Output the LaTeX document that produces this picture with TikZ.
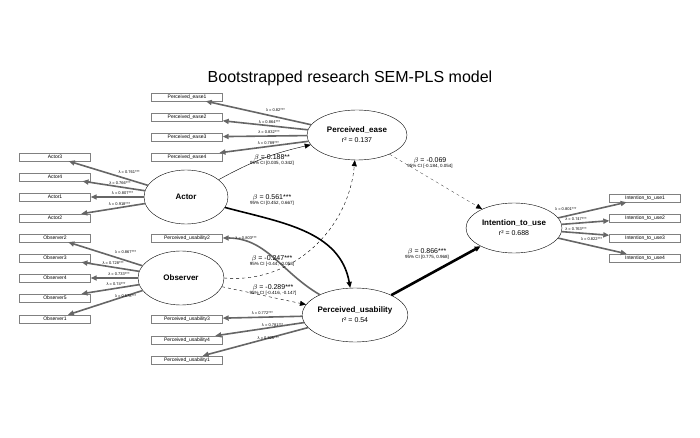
\documentclass[tikz,border=0pt]{standalone}
\usepackage{fontspec}
\setmainfont{Liberation Sans}
\usetikzlibrary{arrows.meta,shapes.geometric}
\begin{document}
\begin{tikzpicture}[x=1pt,y=-1pt,
 lat/.style={ellipse,draw,thin,minimum width=#1,minimum height=50pt,inner sep=0pt,align=center},
 box/.style={draw,gray,thin,minimum width=71pt,minimum height=8pt,inner sep=0pt,text=black,font=\fontsize{5}{5}\selectfont},
 ld/.style={draw=gray!80!black,line width=1.6pt,-{Triangle[length=6pt,width=5pt]}},
 ll/.style={font=\fontsize{4}{4}\selectfont,inner sep=1.5pt},
 bl/.style={font=\fontsize{7}{7}\selectfont,align=center,inner sep=0pt},
 arr/.style={-{Triangle[length=6pt,width=5pt]}}]
\useasboundingbox (0,0) rectangle (700,438);
\node[font=\fontsize{16}{16}\selectfont] (title) at (350,78) {Bootstrapped research SEM-PLS model};
\node[lat=100pt] (pe) at (357,135) {\fontsize{8}{8}\selectfont\bfseries Perceived\_ease\\[-2pt]\fontsize{7}{7}\selectfont r² = 0.137};
\node[lat=84pt,minimum height=54pt] (ac) at (186,197) {\fontsize{8}{8}\selectfont\bfseries Actor};
\node[lat=86pt,minimum height=54pt] (ob) at (181,278) {\fontsize{8}{8}\selectfont\bfseries Observer};
\node[lat=96pt,minimum height=54pt] (pu) at (355,315) {\fontsize{8}{8}\selectfont\bfseries Perceived\_usability\\[-2pt]\fontsize{7}{7}\selectfont r² = 0.54};
\node[lat=96pt] (iu) at (514,228) {\fontsize{8}{8}\selectfont\bfseries Intention\_to\_use\\[-2pt]\fontsize{7}{7}\selectfont r² = 0.688};
% boxes
\node[box] (pe1) at (187,97) {Perceived\_ease1};
\node[box] (pe2) at (187,117) {Perceived\_ease2};
\node[box] (pe3) at (187,137) {Perceived\_ease3};
\node[box] (pe4) at (187,157) {Perceived\_ease4};
\node[box] (a3) at (55,157) {Actor3};
\node[box] (a4) at (55,177) {Actor4};
\node[box] (a1) at (55,197) {Actor1};
\node[box] (a2) at (55,218) {Actor2};
\node[box] (o2) at (55,238) {Observer2};
\node[box] (o3) at (55,258) {Observer3};
\node[box] (o4) at (55,278) {Observer4};
\node[box] (o5) at (55,298) {Observer5};
\node[box] (o1) at (55,319) {Observer1};
\node[box] (pu2) at (187,238) {Perceived\_usability2};
\node[box] (pu3) at (187,319) {Perceived\_usability3};
\node[box] (pu4) at (187,340) {Perceived\_usability4};
\node[box] (pu1) at (187,360) {Perceived\_usability1};
\node[box] (i1) at (645,198) {Intention\_to\_use1};
\node[box] (i2) at (645,218) {Intention\_to\_use2};
\node[box] (i3) at (645,238) {Intention\_to\_use3};
\node[box] (i4) at (645,258) {Intention\_to\_use4};
% loadings
\draw[ld] (pe) -- (pe1) node[ll,pos=0.45,above right] {λ = 0.82***};
\draw[ld] (pe) -- (pe2) node[ll,pos=0.45,above] {λ = 0.864***};
\draw[ld] (pe) -- (pe3) node[ll,pos=0.45,above] {λ = 0.832***};
\draw[ld] (pe) -- (pe4) node[ll,pos=0.45,above] {λ = 0.789***};
\draw[ld] (ac) -- (a3) node[ll,pos=0.4,above right] {λ = 0.761***};
\draw[ld] (ac) -- (a4) node[ll,pos=0.4,above] {λ = 0.766***};
\draw[ld] (ac) -- (a1) node[ll,pos=0.4,above] {λ = 0.807***};
\draw[ld] (ac) -- (a2) node[ll,pos=0.4,above] {λ = 0.918***};
\draw[ld] (ob) -- (o2) node[ll,pos=0.4,above right] {λ = 0.867***};
\draw[ld] (ob) -- (o3) node[ll,pos=0.45,above] {λ = 0.728***};
\draw[ld] (ob) -- (o4) node[ll,pos=0.4,above] {λ = 0.733***};
\draw[ld] (ob) -- (o5) node[ll,pos=0.4,above] {λ = 0.74***};
\draw[ld] (ob) -- (o1) node[ll,pos=0.4,above right] {λ = 0.578***};
\draw[ld] (pu) to[out=150,in=0] node[ll,pos=0.8,above] {λ = 0.803***} (pu2);
\draw[ld] (pu) -- (pu3) node[ll,pos=0.5,above] {λ = 0.772***};
\draw[ld] (pu) -- (pu4) node[ll,pos=0.5,above right] {λ = 0.781***};
\draw[ld] (pu) -- (pu1) node[ll,pos=0.5,above right] {λ = 0.825***};
\draw[ld] (iu) -- (i1) node[ll,pos=0.3,above left] {λ = 0.801***};
\draw[ld] (iu) -- (i2) node[ll,pos=0.3,above] {λ = 0.747***};
\draw[ld] (iu) -- (i3) node[ll,pos=0.3,above] {λ = 0.763***};
\draw[ld] (iu) -- (i4) node[ll,pos=0.3,above right] {λ = 0.822***};
% structural
\draw[arr,thin] (ac) to[bend left=8] (pe);
\draw[arr,line width=1.6pt] (ac) to[out=-15,in=100] (pu);
\draw[arr,dashed,thin] (ob.east) to[out=-5,in=-95] (pe);
\draw[arr,dashed,thin] (ob) -- (pu);
\draw[arr,dashed,very thin] (pe) -- (iu);
\draw[arr,line width=2.6pt] (pu) -- (iu);
\node[bl] (b1) at (272,160) {$\beta$ = 0.188**\\[-2pt]{\fontsize{4.5}{4.5}\selectfont 95\% CI [0.035, 0.342]}};
\node[bl] (b2) at (272,200) {$\beta$ = 0.561***\\[-2pt]{\fontsize{4.5}{4.5}\selectfont 95\% CI [0.452, 0.667]}};
\node[bl] (b3) at (272,261) {$\beta$ = -0.247***\\[-2pt]{\fontsize{4.5}{4.5}\selectfont 95\% CI [-0.44, -0.053]}};
\node[bl] (b4) at (273,290) {$\beta$ = -0.289***\\[-2pt]{\fontsize{4.5}{4.5}\selectfont 95\% CI [-0.416, -0.147]}};
\node[bl] (b5) at (430,163) {$\beta$ = -0.069\\[-2pt]{\fontsize{4.5}{4.5}\selectfont 95\% CI [-0.184, 0.054]}};
\node[bl] (b6) at (427,254) {$\beta$ = 0.866***\\[-2pt]{\fontsize{4.5}{4.5}\selectfont 95\% CI [0.775, 0.968]}};
\end{tikzpicture}
\end{document}
